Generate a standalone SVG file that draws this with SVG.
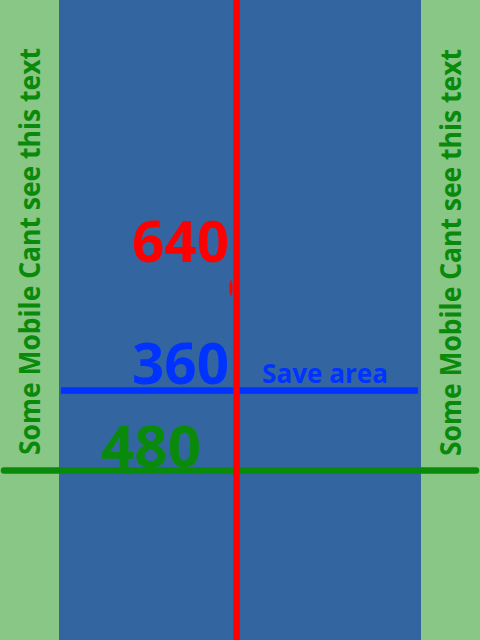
<svg xmlns="http://www.w3.org/2000/svg" width="480" height="640" viewBox="0 0 480 640">
<style>
.t{font-family:"Open Sans","Liberation Sans",sans-serif;font-weight:bold}
.side{font-size:29px;fill:#0a8a0a}
.big{font-size:57px}
</style>
<g id="background">
<rect x="0" y="0" width="480" height="640" fill="#88c785"/>
<rect x="59" y="0" width="362" height="640" fill="#3366a1"/>
</g>
<g id="side-left">
<text class="t side" transform="translate(39.5,455) rotate(-90)" textLength="407" lengthAdjust="spacingAndGlyphs">Some Mobile Cant see this text</text>
</g>
<g id="side-right">
<text class="t side" transform="translate(460.5,456) rotate(-90)" textLength="407" lengthAdjust="spacingAndGlyphs">Some Mobile Cant see this text</text>
</g>
<g id="label-640">
<text class="t big" x="132" y="262" fill="#ff0000" textLength="97" lengthAdjust="spacingAndGlyphs">640</text>
</g>
<g id="label-360">
<text class="t big" x="132" y="384" fill="#0033ff" textLength="97" lengthAdjust="spacingAndGlyphs">360</text>
</g>
<g id="label-save">
<text class="t" x="262" y="383" font-size="26" fill="#0033ff" textLength="126" lengthAdjust="spacingAndGlyphs">Save area</text>
</g>
<g id="label-480">
<text class="t big" x="101" y="467" fill="#0a8a0a" textLength="100" lengthAdjust="spacingAndGlyphs">480</text>
</g>
<g id="connectors">
<line x1="61" y1="390.5" x2="418" y2="390.5" stroke="#0033ff" stroke-width="6.5"/>
<line x1="4" y1="470.5" x2="476" y2="470.5" stroke="#0a8a0a" stroke-width="6.5" stroke-linecap="round"/>
<line x1="236.5" y1="0" x2="236.5" y2="640" stroke="#ff0000" stroke-width="6.5"/>
<ellipse cx="231" cy="288" rx="1.6" ry="8" fill="#ff0000"/>
</g>
</svg>
